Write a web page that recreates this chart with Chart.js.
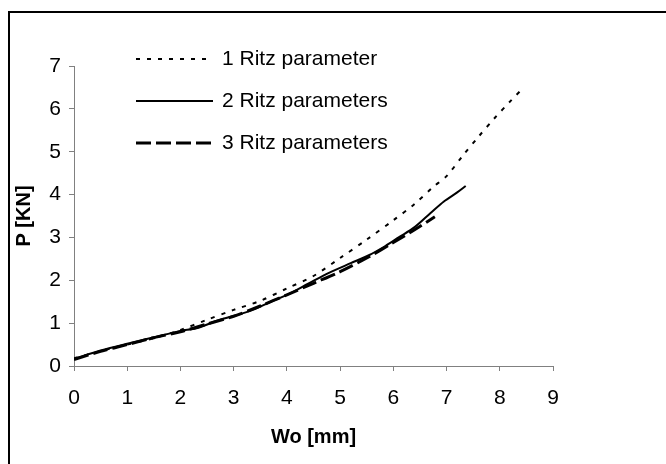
<!DOCTYPE html>
<html>
<head>
<meta charset="utf-8">
<script src="https://cdn.jsdelivr.net/npm/chart.js@4.4.1/dist/chart.umd.min.js"></script>
<style>
  html, body { margin: 0; padding: 0; background: #fff; }
  #wrap { width: 666px; height: 464px; }
</style>
</head>
<body>
<div id="wrap"><canvas id="ritzChart" width="666" height="464"></canvas></div>
<script>
const seriesLabels = ["1 Ritz parameter", "2 Ritz parameters", "3 Ritz parameters"];
const xTicks = [0, 9];
const yTicks = [0, 7];

// [Wo mm, P kN]
const ritz1 = [[0, 0.18], [0.5, 0.35], [1, 0.5], [1.5, 0.65], [2, 0.84], [2.48, 1.07], [3, 1.31], [3.5, 1.52],
  [4, 1.81], [4.5, 2.1], [5, 2.52], [5.5, 2.95], [6, 3.4], [6.4, 3.78], [6.75, 4.18], [7, 4.43],
  [7.3, 4.9], [7.6, 5.35], [7.9, 5.78], [8.2, 6.18], [8.45, 6.5]];
const ritz2 = [[0, 0.17], [0.5, 0.36], [1, 0.52], [1.5, 0.67], [2, 0.82], [2.3, 0.88], [2.7, 1.06], [3.3, 1.28],
  [3.7, 1.5], [4.05, 1.69], [4.4, 1.92], [4.8, 2.18], [5.2, 2.4], [5.55, 2.59], [5.85, 2.8], [6.1, 3.0],
  [6.4, 3.24], [6.7, 3.57], [6.95, 3.84], [7.2, 4.05], [7.36, 4.2]];
const ritz3 = [[0, 0.15], [0.5, 0.34], [1, 0.5], [1.5, 0.66], [2, 0.8], [2.5, 0.98], [3, 1.16], [3.5, 1.4],
  [4, 1.66], [4.5, 1.93], [5, 2.2], [5.5, 2.52], [6, 2.88], [6.4, 3.18], [6.78, 3.48]];

const toPoints = (rows) => rows.map(([x, y]) => ({ x, y }));
const axisGrey = "#808080";
const font = "'Liberation Sans', Arial, sans-serif";
Chart.defaults.font.family = font;
Chart.defaults.color = "#000";

const frame = {
  id: "frame",
  beforeDraw(chart) {
    const ctx = chart.ctx;
    ctx.save();
    ctx.fillStyle = "#fff";
    ctx.fillRect(0, 0, chart.width, chart.height);
    ctx.strokeStyle = "#000";
    ctx.lineWidth = 2;
    ctx.beginPath();
    ctx.moveTo(9, chart.height);
    ctx.lineTo(9, 12);
    ctx.lineTo(chart.width, 12);
    ctx.stroke();
    ctx.restore();
  }
};

const lineLegend = {
  id: "lineLegend",
  afterDraw(chart) {
    const ctx = chart.ctx;
    chart.data.datasets.forEach((ds, i) => {
      const y = 59 + i * 42;
      ctx.save();
      ctx.strokeStyle = ds.borderColor;
      ctx.lineWidth = ds.borderWidth;
      ctx.setLineDash(ds.borderDash || []);
      ctx.beginPath();
      ctx.moveTo(136, y);
      ctx.lineTo(213, y);
      ctx.stroke();
      ctx.setLineDash([]);
      ctx.fillStyle = "#000";
      ctx.font = "21px " + font;
      ctx.textBaseline = "middle";
      ctx.fillText(ds.label, 222, y);
      ctx.restore();
    });
  }
};

new Chart(document.getElementById("ritzChart"), {
  type: "scatter",
  data: {
    datasets: [
      { label: seriesLabels[0], data: toPoints(ritz1), borderColor: "#000", borderWidth: 2, borderDash: [4, 7], order: 1 },
      { label: seriesLabels[1], data: toPoints(ritz2), borderColor: "#000", borderWidth: 2, order: 2 },
      { label: seriesLabels[2], data: toPoints(ritz3), borderColor: "#000", borderWidth: 3, borderDash: [15, 5], order: 3 }
    ].map((ds) => ({ ...ds, showLine: true, pointRadius: 0, tension: 0.3, fill: false }))
  },
  options: {
    responsive: false,
    animation: false,
    layout: { padding: { left: 10, top: 66, right: 113, bottom: 8 } },
    plugins: { legend: { display: false }, tooltip: { enabled: false } },
    scales: {
      x: {
        type: "linear",
        min: xTicks[0],
        max: xTicks[1],
        ticks: { stepSize: 1, font: { size: 21 }, padding: 15, color: "#000" },
        grid: { drawOnChartArea: false, tickLength: 5, color: axisGrey },
        border: { color: axisGrey },
        title: { display: true, text: "Wo [mm]", font: { size: 20, weight: "bold" }, color: "#000", padding: { top: 0, bottom: 7 } },
        afterFit(scale) { scale.height = 90; }
      },
      y: {
        type: "linear",
        min: yTicks[0],
        max: yTicks[1],
        ticks: { stepSize: 1, font: { size: 21 }, padding: 8, color: "#000" },
        grid: { drawOnChartArea: false, tickLength: 5, color: axisGrey },
        border: { color: axisGrey },
        title: { display: true, text: "P [KN]", font: { size: 20, weight: "bold" }, color: "#000", padding: { top: 2, bottom: 0 } },
        afterFit(scale) { scale.width = 64; }
      }
    }
  },
  plugins: [frame, lineLegend]
});
</script>
</body>
</html>
